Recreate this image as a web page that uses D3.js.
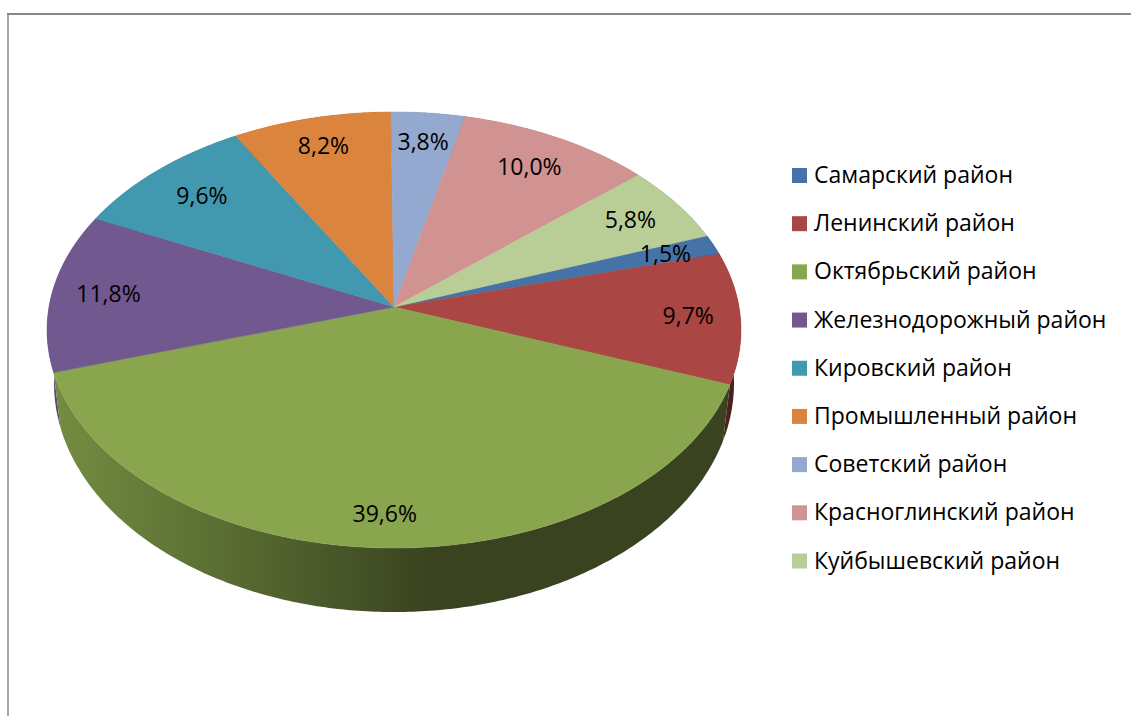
<!DOCTYPE html>
<html>
<head>
<meta charset="utf-8">
<script src="https://cdn.jsdelivr.net/npm/d3@7"></script>
<style>
body { margin: 0; background: #fff; }
text { font-family: "Open Sans", "Noto Sans", sans-serif; fill: #000; }
</style>
</head>
<body>
<script>
const districts = ["Самарский район", "Ленинский район", "Октябрьский район", "Железнодорожный район",
    "Кировский район", "Промышленный район", "Советский район", "Красноглинский район", "Куйбышевский район"]
const shares = [1.5, 9.7, 39.6, 11.8, 9.6, 8.2, 3.8, 10.0, 5.8]
const colors = ["#4572A7", "#AA4643", "#89A54E", "#71588F", "#4198AF", "#DB843D", "#93A9CF", "#D19392", "#B9CD96"]
const sideColors = ["#2a4565", "#4d1f1e", "url(#greenSide)", "#5c4776", "#2a6272", "#8a5327", "#5e6c85", "#875e5d", "#76835f"]
// distance de chaque etiquette au centre (1 = bord)
const labelRadius = [0.846, 0.85, 0.872, 0.835, 0.80, 0.84, 0.84, 0.815, 0.83]

const width = 1131, height = 716
const svg = d3.select("body").append("svg").attr("width", width).attr("height", height).style("display", "block")

// cadre
svg.append("path").attr("d", `M8,${height}V14`).attr("stroke", "#a6a6a6").attr("stroke-width", 2).attr("fill", "none")
svg.append("path").attr("d", `M7,14H${width}`).attr("stroke", "#868686").attr("stroke-width", 2).attr("fill", "none")

// perspective: disque -> ecran
const cx = 394, cy = 307, A = 345, B = 215.6, k = 0.1055
function project(angle, r) {
    const u = Math.sin(angle) * r, v = -Math.cos(angle) * r, w = 1 - k * v
    return [cx + A * u / w, cy + B * v / w]
}
// bord inferieur
function projectBottom(angle) {
    const p = project(angle, 1)
    return [cx + 0.98 * (p[0] - cx), 359 + 1.05 * (p[1] - cy)]
}

const startAngle = 70 * Math.PI / 180
const slices = d3.pie().sort(null).startAngle(startAngle).endAngle(startAngle + 2 * Math.PI)(shares)
const line = d3.line()

function rim(s) {
    const n = Math.max(4, Math.ceil((s.endAngle - s.startAngle) * 90))
    return d3.range(n + 1).map(i => s.startAngle + (s.endAngle - s.startAngle) * i / n)
}

const grad = svg.append("defs").append("linearGradient").attr("id", "greenSide")
    .attr("gradientUnits", "userSpaceOnUse").attr("x1", 55).attr("x2", 430).attr("y1", 0).attr("y2", 0)
grad.append("stop").attr("offset", 0).attr("stop-color", "#748c41")
grad.append("stop").attr("offset", 0.45).attr("stop-color", "#5a6d32")
grad.append("stop").attr("offset", 1).attr("stop-color", "#394320")

// cotes, de l'arriere vers l'avant
const midV = s => -Math.cos((s.startAngle + s.endAngle) / 2)
svg.append("g").selectAll("path")
    .data(slices.slice().sort((a, b) => midV(a) - midV(b)))
    .enter()
    .append("path")
    .attr("d", s => {
        const angles = rim(s)
        return line(angles.map(a => project(a, 1)).concat(angles.slice().reverse().map(projectBottom))) + "Z"
    })
    .attr("fill", s => sideColors[s.index])

// dessus
const tops = svg.append("g")
tops.selectAll("path")
    .data(slices)
    .enter()
    .append("path")
    .attr("d", s => line([[cx, cy]].concat(rim(s).map(a => project(a, 1)))) + "Z")
    .attr("fill", s => colors[s.index])
    .attr("stroke", s => colors[s.index])
    .attr("stroke-width", 0.5)

// etiquettes
const format = d => d.toFixed(1).replace(".", ",") + "%"
svg.append("g").selectAll("text")
    .data(slices)
    .enter()
    .append("text")
    .text(s => format(s.data))
    .attr("x", s => project((s.startAngle + s.endAngle) / 2, labelRadius[s.index])[0])
    .attr("y", s => project((s.startAngle + s.endAngle) / 2, labelRadius[s.index])[1] - 1)
    .attr("text-anchor", "middle")
    .attr("dominant-baseline", "central")
    .attr("font-size", 23)

// legende
const legendY = d3.scaleLinear().domain([0, districts.length - 1]).range([175.5, 561])
const legend = svg.append("g").selectAll("g")
    .data(districts)
    .enter()
    .append("g")
    .attr("transform", (d, i) => `translate(792,${legendY(i)})`)
legend.append("rect")
    .attr("y", -7.5)
    .attr("width", 15)
    .attr("height", 15)
    .attr("fill", (d, i) => colors[i])
legend.append("text")
    .text(d => d)
    .attr("x", 22)
    .attr("y", -1.5)
    .attr("dominant-baseline", "central")
    .attr("font-size", 23)
</script>
</body>
</html>
